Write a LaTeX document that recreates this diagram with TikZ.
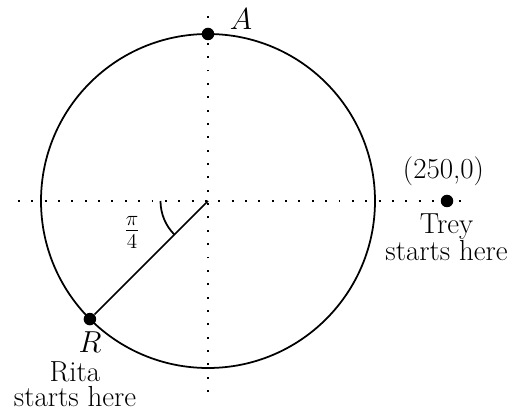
\documentclass[tikz,border=0pt]{standalone}
\usepackage{amsmath,amssymb}
\usepackage{tikz}
\usetikzlibrary{positioning,calc}

\begin{document}
\begin{tikzpicture}[
    axis/.style={line width=1.1pt,dash pattern=on 1.1pt off 6.5pt},
    ring/.style={line width=1pt},
    spot/.style={circle,fill=black,inner sep=0pt,minimum size=0.25cm},
    note/.style={align=center,inner sep=0pt,font=\fontsize{16.5}{14.2}\selectfont}
  ]
    \useasboundingbox (-4.16,-4.18) rectangle (6.06,4.02);
    \coordinate (O) at (0,0);
    \coordinate (xl) at (-3.8,0);
    \coordinate (xr) at (5.25,0);
    \coordinate (yt) at (0,3.86);
    \coordinate (yb) at (0,-3.82);
    \draw[axis] (xl) -- (xr);
    \draw[axis] (yb) -- (yt);

    \draw[ring] (O) circle[radius=3.34];
    \draw[ring] (O) ++(-0.95,0) arc[start angle=180,end angle=225,radius=0.95];

    \node[spot] (A) at (90:3.34) {};
    \node[spot] (R) at (225:3.34) {};
    \node[spot] (T) at (4.78,0) {};
    \draw[ring] (O) -- (R);

    \node[note,anchor=base] (Alab) at (0.66,3.42) {$A$};
    \node[note,font=\fontsize{18}{18}\selectfont] (ang) at (-1.52,-0.63) {$\frac{\pi}{4}$};
    \node[note,anchor=base] (Rlab) at (-2.36,-3.02) {$R$};
    \node[note,anchor=base] (rita) at (-2.66,-4.10) {Rita\\starts here};
    \node[note,anchor=base] (Tlab) at (4.71,0.44) {(250,0)};
    \node[note,anchor=base] (trey) at (4.77,-1.20) {Trey\\starts here};
  \end{tikzpicture}
\end{document}
